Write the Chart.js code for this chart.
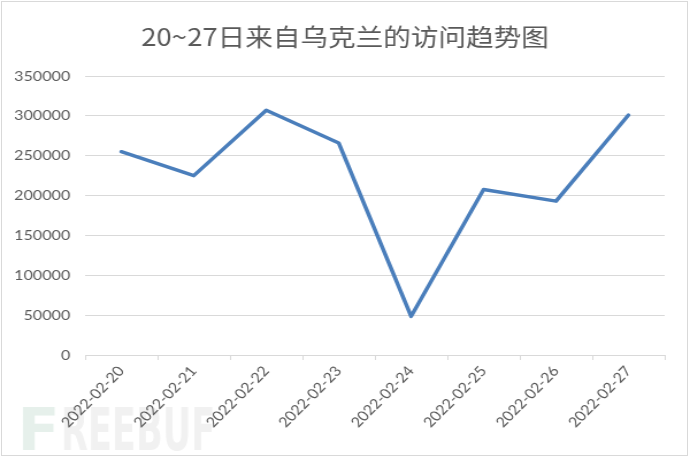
<!DOCTYPE html>
<html>
<head>
<meta charset="utf-8">
<script src="https://cdn.jsdelivr.net/npm/chart.js@4/dist/chart.umd.min.js"></script>
<style>
  html, body { margin: 0; padding: 0; background: #fff; }
  #wrap { position: relative; width: 690px; height: 457px; }
  #chart { position: absolute; left: 0; top: 0; }
  #frame { position: absolute; left: 1px; top: 1px; width: 685px; height: 453px; border: 1px solid #d9d9d9; pointer-events: none; }
</style>
</head>
<body>
<div id="wrap">
  <!-- the source image is slightly stretched sideways, so the canvas is drawn narrower and scaled up -->
  <canvas id="chart" width="600" height="457" style="width:690px;height:457px"></canvas>
  <div id="frame"></div>
</div>
<script>
// 每日访问量
const days = ['2022-02-20', '2022-02-21', '2022-02-22', '2022-02-23', '2022-02-24', '2022-02-25', '2022-02-26', '2022-02-27'];
const visits = [255000, 225000, 307000, 266000, 48500, 207500, 193000, 301000];
const yMin = 0;
const yMax = 350000;
const yStep = 50000;

const textGrey = '#595959';
const gridGrey = '#d9d9d9';

// 左下角的 FREEBUF 水印
const watermark = {
    id: 'watermark',
    beforeDraw(chart) {
        const ctx = chart.ctx;
        ctx.save();
        ctx.font = 'bold 58px "DejaVu Sans"';
        ctx.textBaseline = 'alphabetic';
        ctx.fillStyle = '#e6f0eb';
        ctx.fillText('F', 15, 450, 37);
        ctx.fillStyle = '#f1f1f1';
        ctx.fillText('REEBUF', 53, 450, 134);
        ctx.restore();
    }
};

const ctx = document.getElementById('chart').getContext('2d');
new Chart(ctx, {
    type: 'line',
    data: {
        labels: days,
        datasets: [{
            data: visits,
            borderColor: '#4a7ebb',
            borderWidth: 3.5,
            pointRadius: 0,
            tension: 0,
            fill: false,
            borderJoinStyle: 'round',
            borderCapStyle: 'round'
        }]
    },
    options: {
        responsive: false,
        animation: false,
        layout: { padding: 0 },
        plugins: {
            legend: { display: false },
            tooltip: { enabled: false },
            title: {
                display: true,
                text: '20~27日来自乌克兰的访问趋势图',
                color: textGrey,
                font: { family: '"Noto Sans CJK SC"', size: 24, weight: 'normal', lineHeight: 1.25 },
                padding: { top: 22, bottom: 24 }
            }
        },
        scales: {
            x: {
                offset: true,
                grid: { offset: true, drawOnChartArea: false, drawTicks: true, tickLength: 5, color: gridGrey },
                border: { display: true, color: gridGrey, width: 1 },
                ticks: {
                    minRotation: 49,
                    maxRotation: 49,
                    padding: 3,
                    color: textGrey,
                    font: { family: 'Lato', size: 14 }
                },
                // 右侧留白只给绘图区，标题仍按整张图居中
                afterFit(scale) { scale.height = 102; scale.paddingRight = 22; }
            },
            y: {
                min: yMin,
                max: yMax,
                grid: { color: gridGrey, drawTicks: false, lineWidth: 1 },
                border: { display: false },
                ticks: {
                    stepSize: yStep,
                    padding: 13,
                    color: textGrey,
                    font: { family: 'Lato', size: 14 },
                    callback: (v) => String(v)
                },
                afterFit(scale) { scale.width = 74; }
            }
        }
    },
    plugins: [watermark]
});
</script>
</body>
</html>
